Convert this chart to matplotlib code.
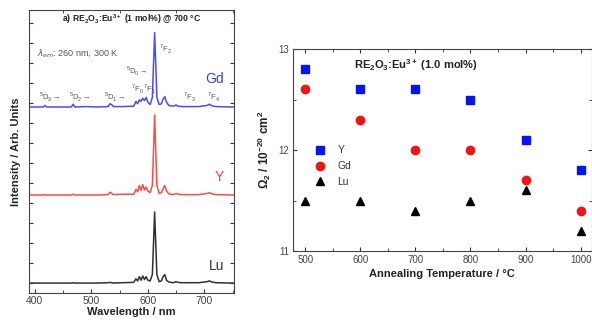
import matplotlib
matplotlib.use("Agg")
import matplotlib.pyplot as plt
from matplotlib.ticker import MultipleLocator
import numpy as np

plt.rcParams["font.family"] = ["Liberation Sans", "DejaVu Sans"]
plt.rcParams["mathtext.fontset"] = "custom"
plt.rcParams["mathtext.rm"] = "Liberation Sans"
plt.rcParams["mathtext.bf"] = "Liberation Sans:bold"

# emission spectra (normalised)
wavelength = [390, 415, 418, 421, 440, 465, 468, 471, 490, 510, 530, 533, 536, 539, 555,
              575, 579, 582, 585, 588, 591, 594, 597, 600, 604, 608, 610, 612, 614, 616,
              620, 624, 627, 630, 633, 637, 645, 650, 653, 660, 690, 705, 709, 713, 720, 752]
int_gd = [0, 0, 0.02, 0, 0, 0, 0.035, 0, 0.005, 0, 0.005, 0.04, 0.03, 0.005, 0.005,
          0.01, 0.07, 0.04, 0.09, 0.07, 0.11, 0.08, 0.12, 0.06, 0.03, 0.12, 0.53, 0.93, 0.53, 0.12,
          0.03, 0.04, 0.1, 0.13, 0.06, 0.02, 0.01, 0.025, 0.01, 0.005, 0.005, 0.02, 0.035, 0.015, 0.005, 0]
int_y = [0, 0, 0.005, 0, 0, 0, 0.01, 0, 0, 0, 0.005, 0.035, 0.02, 0.005, 0.01,
         0.01, 0.07, 0.04, 0.12, 0.06, 0.13, 0.06, 0.1, 0.05, 0.03, 0.12, 0.55, 1.0, 0.55, 0.12,
         0.02, 0.03, 0.08, 0.12, 0.05, 0.015, 0.005, 0.02, 0.01, 0.005, 0.005, 0.02, 0.03, 0.015, 0.005, 0]
int_lu = [0, 0, 0, 0, 0, 0, 0.005, 0, 0, 0, 0.005, 0.01, 0.005, 0, 0.005,
          0.01, 0.06, 0.03, 0.09, 0.04, 0.1, 0.05, 0.09, 0.04, 0.03, 0.12, 0.55, 1.0, 0.55, 0.12,
          0.02, 0.03, 0.09, 0.12, 0.04, 0.015, 0.005, 0.02, 0.01, 0.005, 0.005, 0.02, 0.03, 0.015, 0.005, 0]

# Omega_2 vs annealing temperature
temperature = [500, 600, 700, 800, 900, 1000]
omega_y = [12.8, 12.6, 12.6, 12.5, 12.1, 11.8]
omega_gd = [12.6, 12.3, 12.0, 12.0, 11.7, 11.4]
omega_lu = [11.5, 11.5, 11.4, 11.5, 11.6, 11.2]

fig = plt.figure(figsize=(5.92, 3.21), dpi=100)

# ---- left: spectra
ax1 = fig.add_axes([0.049, 0.087, 0.346, 0.882])
wl = np.array(wavelength)
ax1.plot(wl, 8.8 + 4.0 * np.array(int_gd), color="#4a4aff", lw=1.1)
ax1.plot(wl, 4.4 + 4.0 * np.array(int_y), color="#ff4a4a", lw=1.1)
ax1.plot(wl, 0.0 + 3.55 * np.array(int_lu), color="#303030", lw=1.1)
ax1.set_xlim(390, 752)
ax1.set_ylim(-0.5, 13.65)
ax1.xaxis.set_major_locator(MultipleLocator(100))
ax1.xaxis.set_minor_locator(MultipleLocator(50))
ax1.yaxis.set_major_locator(MultipleLocator(1))
ax1.set_yticklabels([])
ax1.tick_params(which="both", direction="in", top=True, right=True, labelsize=7.5,
                colors="#333333", labelcolor="#444444", pad=2)
ax1.tick_params(which="major", length=3)
ax1.tick_params(which="minor", length=2)
ax1.tick_params(axis="x", which="major", top=False)
for s in ax1.spines.values():
    s.set_color("#444444")
ax1.set_xlabel("Wavelength / nm", fontsize=8, fontweight="bold", labelpad=1, color="#222222")
ax1.set_ylabel("Intensity / Arb. Units", fontsize=8, fontweight="bold", labelpad=4, color="#222222")

ax1.text(0.5, 0.992, r"a) RE$_\mathbf{2}$O$_\mathbf{3}$:Eu$^\mathbf{3+}$ (1 mol%) @ 700 °C",
         transform=ax1.transAxes, ha="center", va="top", fontsize=6.2, fontweight="bold", color="#222222")
ax1.text(405, 11.5, r"$\lambda_{em}$: 260 nm, 300 K", fontsize=6.5, color="#555555", va="center")
tr = [(407, 9.3, r"$^5$D$_3$$\rightarrow$"), (460, 9.3, r"$^5$D$_2$$\rightarrow$"),
      (522, 9.3, r"$^5$D$_1$$\rightarrow$"), (562, 10.6, r"$^5$D$_0$$\rightarrow$"),
      (570, 9.7, r"$^7$F$_0$"), (591, 9.7, r"$^7$F$_1$"), (619, 11.7, r"$^7$F$_2$"),
      (663, 9.3, r"$^7$F$_3$"), (705, 9.3, r"$^7$F$_4$")]
for x, y, t in tr:
    ax1.text(x, y, t, fontsize=5.5, color="#555555", va="center")
ax1.text(735, 10.2, "Gd", color="#3a3aff", fontsize=10, ha="right", va="center")
ax1.text(735, 5.3, "Y", color="#ff3a3a", fontsize=10, ha="right", va="center")
ax1.text(735, 0.85, "Lu", color="#333333", fontsize=10, ha="right", va="center")

# ---- right: Omega_2
ax2 = fig.add_axes([0.495, 0.218, 0.5045, 0.629])
ax2.plot(temperature, omega_y, "s", color="#0a14f0", ms=5.5, label="Y", clip_on=False)
ax2.plot(temperature, omega_gd, "o", color="#f01414", ms=6, label="Gd", clip_on=False)
ax2.plot(temperature, omega_lu, "^", color="black", ms=6, label="Lu", clip_on=False)
ax2.set_xlim(478, 1020)
ax2.set_ylim(11, 13)
ax2.xaxis.set_major_locator(MultipleLocator(100))
ax2.xaxis.set_minor_locator(MultipleLocator(50))
ax2.yaxis.set_major_locator(MultipleLocator(1))
ax2.yaxis.set_minor_locator(MultipleLocator(0.5))
ax2.tick_params(which="both", direction="in", top=True, right=True, labelsize=7,
                colors="#333333", labelcolor="#444444", pad=3)
ax2.tick_params(which="major", length=3)
ax2.tick_params(which="minor", length=2)
for s in ax2.spines.values():
    s.set_color("#444444")
ax2.set_xlabel("Annealing Temperature / °C", fontsize=8, fontweight="bold", labelpad=3, color="#222222")
ax2.set_ylabel(r"$\mathbf{\Omega_2}$ / 10$^\mathbf{-20}$ cm$^\mathbf{2}$", fontsize=8.5,
               fontweight="bold", labelpad=4, color="#222222")
ax2.text(0.41, 0.92, r"RE$_\mathbf{2}$O$_\mathbf{3}$:Eu$^\mathbf{3+}$ (1.0 mol%)", transform=ax2.transAxes,
         ha="center", va="center", fontsize=8, fontweight="bold", color="#222222")
ax2.legend(loc="center left", bbox_to_anchor=(0.04, 0.42), frameon=False, fontsize=7.5,
           handletextpad=0.7, labelspacing=0.55, markerscale=1.0, borderaxespad=0.0,
           labelcolor="#333333")

fig.savefig("out.png", dpi=100)
